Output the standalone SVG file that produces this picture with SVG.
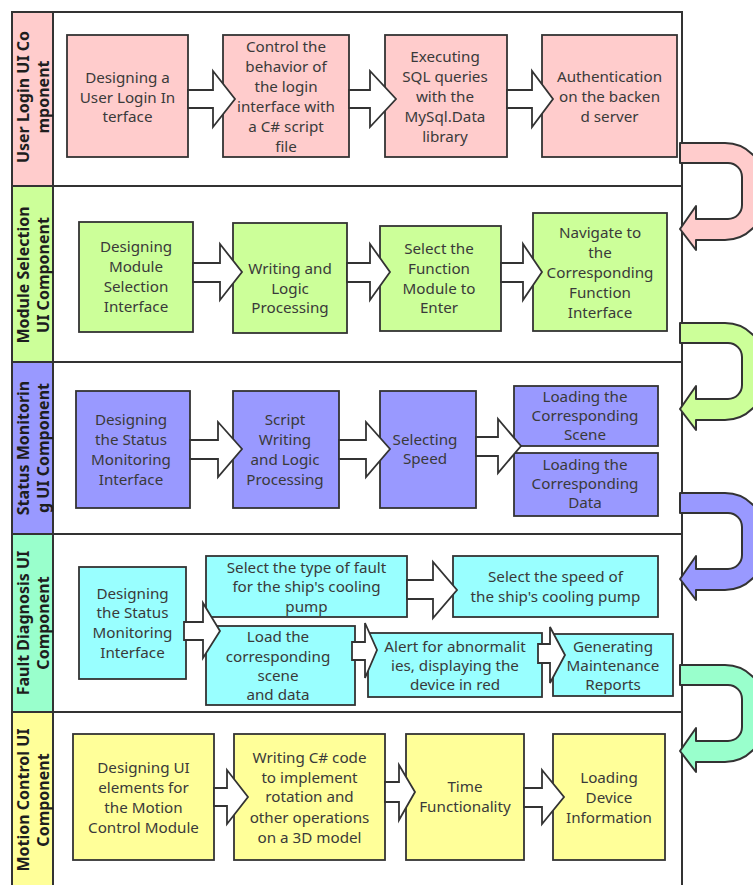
<svg xmlns="http://www.w3.org/2000/svg" xmlns:xlink="http://www.w3.org/1999/xlink" width="753" height="885" viewBox="0 0 753 885">
<style>
.frame{fill:none;stroke:#333;stroke-width:2}
.sep{stroke:#333;stroke-width:2}
.box{stroke:#333;stroke-width:1.8}
.pink{fill:#FFCCCC}.green{fill:#CCFF99}.purple{fill:#9999FF}.cyan{fill:#99FFFF}.mint{fill:#99FFCC}.yellow{fill:#FFFF99}
.t{font-family:"Noto Sans","Open Sans","DejaVu Sans",sans-serif;font-size:15.2px;fill:#3a3a3a;text-anchor:middle}
.lab{font-family:"Noto Sans","Open Sans","DejaVu Sans",sans-serif;font-size:16px;font-weight:bold;fill:#1e1e1e;text-anchor:middle}
.arr{fill:#fff;stroke:#333;stroke-width:1.8;stroke-linejoin:miter}
.uturn{stroke:#333;stroke-width:2;stroke-linejoin:round}
</style>
<defs>
<path id="u" d="M680,0 H725 A39,39 0 0 1 764,39 V58 A39,39 0 0 1 725,97 H696 V107 L680,86 L696,63 V76 H728 A14,14 0 0 0 742,62 V34 A14,14 0 0 0 728,20 H680 Z"/>
</defs>
<rect width="753" height="885" fill="#fff"/>
<g id="lanes">
<rect class="pink" x="12" y="12" width="41" height="174"/>
<rect class="green" x="12" y="186" width="41" height="176"/>
<rect class="purple" x="12" y="362" width="41" height="172"/>
<rect class="mint" x="12" y="534" width="41" height="178"/>
<rect class="yellow" x="12" y="712" width="41" height="176"/>
<rect class="frame" x="12" y="12" width="670" height="876"/>
<line class="sep" x1="53" y1="12" x2="53" y2="888"/>
<line class="sep" x1="12" y1="186" x2="682" y2="186"/>
<line class="sep" x1="12" y1="362" x2="682" y2="362"/>
<line class="sep" x1="12" y1="534" x2="682" y2="534"/>
<line class="sep" x1="12" y1="712" x2="682" y2="712"/>
<text class="lab" transform="translate(0,97) rotate(-90)"><tspan x="0" y="29">User Login UI Co</tspan><tspan x="0" y="49">mponent</tspan></text>
<text class="lab" transform="translate(0,275) rotate(-90)"><tspan x="0" y="29">Module Selection</tspan><tspan x="0" y="49">UI Component</tspan></text>
<text class="lab" transform="translate(0,448) rotate(-90)"><tspan x="0" y="29">Status Monitorin</tspan><tspan x="0" y="49">g UI Component</tspan></text>
<text class="lab" transform="translate(0,623) rotate(-90)"><tspan x="0" y="29">Fault Diagnosis UI</tspan><tspan x="0" y="49">Component</tspan></text>
<text class="lab" transform="translate(0,800) rotate(-90)"><tspan x="0" y="29">Motion Control UI</tspan><tspan x="0" y="49">Component</tspan></text>
</g>
<g id="n1a"><rect class="box pink" x="67" y="35" width="121" height="122"/><text class="t"><tspan x="127.5" y="83">Designing a</tspan><tspan x="127.5" y="103">User Login In</tspan><tspan x="127.5" y="122">terface</tspan></text></g>
<g id="n1b"><rect class="box pink" x="223" y="35" width="126" height="122"/><text class="t"><tspan x="286" y="52">Control the</tspan><tspan x="286" y="72">behavior of</tspan><tspan x="286" y="92">the login</tspan><tspan x="286" y="112">interface with</tspan><tspan x="286" y="132">a C# script</tspan><tspan x="286" y="152">file</tspan></text></g>
<g id="n1c"><rect class="box pink" x="385" y="35" width="122" height="122"/><text class="t"><tspan x="445" y="62">Executing</tspan><tspan x="445" y="82">SQL queries</tspan><tspan x="445" y="102">with the</tspan><tspan x="445" y="122">MySql.Data</tspan><tspan x="445" y="142">library</tspan></text></g>
<g id="n1d"><rect class="box pink" x="542" y="35" width="135" height="122"/><text class="t"><tspan x="609.5" y="82">Authentication</tspan><tspan x="609.5" y="102">on the backen</tspan><tspan x="609.5" y="122">d server</tspan></text></g>
<g id="n2a"><rect class="box green" x="79" y="222" width="114" height="110"/><text class="t"><tspan x="136" y="252">Designing</tspan><tspan x="136" y="272">Module</tspan><tspan x="136" y="292">Selection</tspan><tspan x="136" y="312">Interface</tspan></text></g>
<g id="n2b"><rect class="box green" x="233" y="223" width="114" height="110"/><text class="t"><tspan x="290" y="274">Writing and</tspan><tspan x="290" y="294">Logic</tspan><tspan x="290" y="313">Processing</tspan></text></g>
<g id="n2c"><rect class="box green" x="380" y="226" width="121" height="105"/><text class="t"><tspan x="439" y="254">Select the</tspan><tspan x="439" y="274">Function</tspan><tspan x="439" y="294">Module to</tspan><tspan x="439" y="313">Enter</tspan></text></g>
<g id="n2d"><rect class="box green" x="533" y="213" width="134" height="118"/><text class="t"><tspan x="600" y="238">Navigate to</tspan><tspan x="600" y="258">the</tspan><tspan x="600" y="278">Corresponding</tspan><tspan x="600" y="298">Function</tspan><tspan x="600" y="318">Interface</tspan></text></g>
<g id="n3a"><rect class="box purple" x="76" y="391" width="114" height="117"/><text class="t"><tspan x="131" y="425">Designing</tspan><tspan x="131" y="445">the Status</tspan><tspan x="131" y="465">Monitoring</tspan><tspan x="131" y="485">Interface</tspan></text></g>
<g id="n3b"><rect class="box purple" x="233" y="391" width="106" height="117"/><text class="t"><tspan x="285" y="425">Script</tspan><tspan x="285" y="445">Writing</tspan><tspan x="285" y="465">and Logic</tspan><tspan x="285" y="485">Processing</tspan></text></g>
<g id="n3c"><rect class="box purple" x="380" y="391" width="96" height="117"/><text class="t"><tspan x="425" y="445">Selecting</tspan><tspan x="425" y="464">Speed</tspan></text></g>
<g id="n3d"><rect class="box purple" x="514" y="386" width="144" height="60"/><text class="t"><tspan x="585" y="402">Loading the</tspan><tspan x="585" y="421">Corresponding</tspan><tspan x="585" y="440">Scene</tspan></text></g>
<g id="n3e"><rect class="box purple" x="514" y="453" width="144" height="63"/><text class="t"><tspan x="585" y="470">Loading the</tspan><tspan x="585" y="489">Corresponding</tspan><tspan x="585" y="508">Data</tspan></text></g>
<g id="n4a"><rect class="box cyan" x="79" y="567" width="107" height="112"/><text class="t"><tspan x="132.5" y="599">Designing</tspan><tspan x="132.5" y="618">the Status</tspan><tspan x="132.5" y="638">Monitoring</tspan><tspan x="132.5" y="658">Interface</tspan></text></g>
<g id="n4b"><rect class="box cyan" x="206" y="556" width="201" height="61"/><text class="t"><tspan x="306.5" y="573">Select the type of fault</tspan><tspan x="306.5" y="592">for the ship's cooling</tspan><tspan x="306.5" y="612">pump</tspan></text></g>
<g id="n4c"><rect class="box cyan" x="206" y="626" width="149" height="79"/><text class="t"><tspan x="278" y="642">Load the</tspan><tspan x="278" y="662">corresponding</tspan><tspan x="278" y="681">scene</tspan><tspan x="278" y="700">and data</tspan></text></g>
<g id="n4d"><rect class="box cyan" x="453" y="556" width="205" height="61"/><text class="t"><tspan x="555.5" y="582">Select the speed of</tspan><tspan x="555.5" y="602">the ship's cooling pump</tspan></text></g>
<g id="n4e"><rect class="box cyan" x="368" y="633" width="174" height="64"/><text class="t"><tspan x="455" y="652">Alert for abnormalit</tspan><tspan x="455" y="671">ies, displaying the</tspan><tspan x="455" y="690">device in red</tspan></text></g>
<g id="n4f"><rect class="box cyan" x="553" y="634" width="120" height="62"/><text class="t"><tspan x="613" y="652">Generating</tspan><tspan x="613" y="671">Maintenance</tspan><tspan x="613" y="690">Reports</tspan></text></g>
<g id="n5a"><rect class="box yellow" x="73" y="734" width="141" height="126"/><text class="t"><tspan x="143.5" y="773">Designing UI</tspan><tspan x="143.5" y="793">elements for</tspan><tspan x="143.5" y="813">the Motion</tspan><tspan x="143.5" y="833">Control Module</tspan></text></g>
<g id="n5b"><rect class="box yellow" x="234" y="734" width="151" height="126"/><text class="t"><tspan x="309.5" y="763">Writing C# code</tspan><tspan x="309.5" y="783">to implement</tspan><tspan x="309.5" y="802">rotation and</tspan><tspan x="309.5" y="823">other operations</tspan><tspan x="309.5" y="843">on a 3D model</tspan></text></g>
<g id="n5c"><rect class="box yellow" x="406" y="734" width="118" height="126"/><text class="t"><tspan x="465" y="792">Time</tspan><tspan x="465" y="812">Functionality</tspan></text></g>
<g id="n5d"><rect class="box yellow" x="553" y="734" width="112" height="126"/><text class="t"><tspan x="609" y="783">Loading</tspan><tspan x="609" y="803">Device</tspan><tspan x="609" y="823">Information</tspan></text></g>
<g id="connectors">
<polygon class="arr" points="188,90 213,90 213,71 235,99 213,127 213,108 188,108"/>
<polygon class="arr" points="349,90 370,90 370,71 396,99 370,127 370,108 349,108"/>
<polygon class="arr" points="507,90 532,90 532,71 553,99 532,127 532,108 507,108"/>
<polygon class="arr" points="193,263 220,263 220,244 242,272 220,300 220,282 193,282"/>
<polygon class="arr" points="347,263 370,263 370,244 390,272 370,300 370,282 347,282"/>
<polygon class="arr" points="501,263 523,263 523,244 542,272 523,300 523,282 501,282"/>
<polygon class="arr" points="190,440 218,440 218,422 242,449 218,477 218,459 190,459"/>
<polygon class="arr" points="339,440 366,440 366,422 390,449 366,477 366,459 339,459"/>
<polygon class="arr" points="476,437 498,437 498,419 521,446 498,473 498,456 476,456"/>
<polygon class="arr" points="184,622 203,622 203,603 220,631 203,658 203,640 184,640"/>
<polygon class="arr" points="407,580 433,580 433,562 457,590 433,618 433,599 407,599"/>
<polygon class="arr" points="352,642 365,642 365,623 377,650 365,678 365,660 352,660"/>
<polygon class="arr" points="538,644 550,644 550,627 565,655 550,683 550,663 538,663"/>
<polygon class="arr" points="214,788 227,788 227,770 248,797 227,824 227,806 214,806"/>
<polygon class="arr" points="385,782 399,782 399,765 415,792 399,820 399,802 385,802"/>
<polygon class="arr" points="524,788 542,788 542,770 564,797 542,824 542,807 524,807"/>
<use xlink:href="#u" class="uturn pink" transform="translate(0,143)"/>
<use xlink:href="#u" class="uturn green" transform="translate(0,323)"/>
<use xlink:href="#u" class="uturn purple" transform="translate(0,493)"/>
<use xlink:href="#u" class="uturn mint" transform="translate(0,665)"/>
</g>
</svg>
